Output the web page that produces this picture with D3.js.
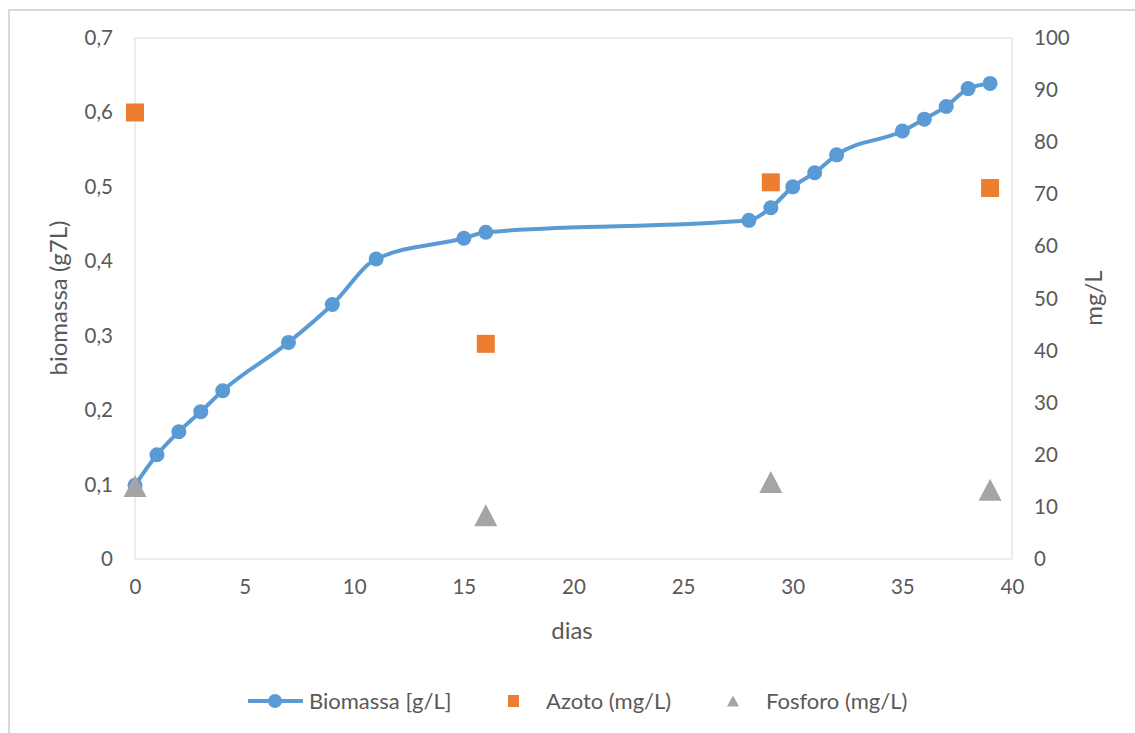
<!DOCTYPE html>
<html>
<head>
<meta charset="utf-8">
<script src="https://cdn.jsdelivr.net/npm/d3@7"></script>
<style>
  html, body { margin: 0; padding: 0; background: #fff; }
  svg { display: block; }
  text { font-family: Lato, "Open Sans", sans-serif; fill: #595959; }
</style>
</head>
<body>
<svg id="chart" width="1135" height="733"></svg>
<script>
// Biomass growth (g/L) by day
const biomassDays  = [0, 1, 2, 3, 4, 7, 9, 11, 15, 16, 28, 29, 30, 31, 32, 35, 36, 37, 38, 39];
const biomassVals  = [0.099, 0.140, 0.171, 0.198, 0.226, 0.291, 0.342, 0.403, 0.431, 0.439,
                      0.455, 0.472, 0.500, 0.519, 0.543, 0.575, 0.591, 0.608, 0.632, 0.639];
// Nutrients (mg/L), right axis
const nutrientDays = [0, 16, 29, 39];
const azotoVals    = [85.7, 41.3, 72.3, 71.2];
const fosforoVals  = [14, 8.4, 14.8, 13.3];

const xTicks      = [0, 5, 10, 15, 20, 25, 30, 35, 40];
const yLeftTicks  = [0, 0.1, 0.2, 0.3, 0.4, 0.5, 0.6, 0.7];
const yRightTicks = [0, 10, 20, 30, 40, 50, 60, 70, 80, 90, 100];

const colors = { bio: "#5B9BD5", azoto: "#ED7D31", fosforo: "#A5A5A5" };

const svg = d3.select("#chart");
const plot = { left: 135, right: 1012, top: 38, bottom: 559 };

const x  = d3.scaleLinear().domain([0, 40]).range([plot.left, plot.right]);
const yL = d3.scaleLinear().domain([0, 0.7]).range([plot.bottom, plot.top]);
const yR = d3.scaleLinear().domain([0, 100]).range([plot.bottom, plot.top]);

// outer chart frame (left and top edges)
svg.append("path")
  .attr("d", "M9,733 V10 H1135")
  .attr("fill", "none").attr("stroke", "#d9d9d9").attr("stroke-width", 2);

// plot area box
svg.append("rect")
  .attr("x", plot.left).attr("y", plot.top)
  .attr("width", plot.right - plot.left).attr("height", plot.bottom - plot.top)
  .attr("fill", "none").attr("stroke", "#d9d9d9").attr("stroke-width", 1);

const fmt = d3.format(".1f");
const comma = v => v === 0 ? "0" : fmt(v).replace(".", ",");

// axes: tick labels only, no tick marks
const axisText = g => { g.select(".domain").remove(); g.selectAll(".tick line").remove(); };
const styleTicks = sel => sel.selectAll("text").attr("font-size", 20.5).attr("fill", "#595959")
  .attr("font-family", "Lato, sans-serif");

svg.append("g")
  .attr("transform", `translate(0,${plot.bottom})`)
  .call(d3.axisBottom(x).tickValues(xTicks).tickSize(0).tickPadding(20))
  .call(axisText).call(styleTicks);

svg.append("g")
  .attr("transform", `translate(${plot.left},0)`)
  .call(d3.axisLeft(yL).tickValues(yLeftTicks).tickFormat(comma).tickSize(0).tickPadding(22))
  .call(axisText).call(styleTicks);

svg.append("g")
  .attr("transform", `translate(${plot.right},0)`)
  .call(d3.axisRight(yR).tickValues(yRightTicks).tickSize(0).tickPadding(22))
  .call(axisText).call(styleTicks);

// axis titles
svg.append("text")
  .attr("x", 572).attr("y", 639).attr("text-anchor", "middle")
  .attr("font-size", 24).text("dias");
svg.append("text")
  .attr("transform", "translate(67,298) rotate(-90)").attr("text-anchor", "middle")
  .attr("font-size", 24).text("biomassa (g7L)");
svg.append("text")
  .attr("transform", "translate(1102,298) rotate(-90)").attr("text-anchor", "middle")
  .attr("font-size", 24).text("mg/L");

// biomass series: smoothed line with circle markers
const bio = biomassDays.map((d, i) => ({ d, v: biomassVals[i] }));
svg.append("path")
  .datum(bio)
  .attr("fill", "none").attr("stroke", colors.bio).attr("stroke-width", 4)
  .attr("stroke-linejoin", "round").attr("stroke-linecap", "round")
  .attr("d", d3.line().x(p => x(p.d)).y(p => yL(p.v)).curve(d3.curveMonotoneX));
svg.append("g").selectAll("circle").data(bio).join("circle")
  .attr("cx", p => x(p.d)).attr("cy", p => yL(p.v)).attr("r", 7.5)
  .attr("fill", colors.bio);

// nitrogen: squares on the right axis
const sq = 18;
svg.append("g").selectAll("rect").data(nutrientDays).join("rect")
  .attr("x", (d) => x(d) - sq / 2)
  .attr("y", (d, i) => yR(azotoVals[i]) - sq / 2)
  .attr("width", sq).attr("height", sq)
  .attr("fill", colors.azoto);

// phosphorus: triangles on the right axis
const tri = (cx, cy, w, h) => `M${cx},${cy - h / 2} L${cx + w / 2},${cy + h / 2} L${cx - w / 2},${cy + h / 2} Z`;
svg.append("g").selectAll("path").data(nutrientDays).join("path")
  .attr("d", (d, i) => tri(x(d), yR(fosforoVals[i]), 23, 22))
  .attr("fill", colors.fosforo);

// legend
const ly = 701;
const legend = svg.append("g");
legend.append("line").attr("x1", 248).attr("x2", 303).attr("y1", ly).attr("y2", ly)
  .attr("stroke", colors.bio).attr("stroke-width", 4);
legend.append("circle").attr("cx", 275).attr("cy", ly).attr("r", 7).attr("fill", colors.bio);
legend.append("text").attr("x", 309).attr("y", ly + 8).attr("font-size", 22).text("Biomassa [g/L]");
legend.append("rect").attr("x", 508).attr("y", ly - 6).attr("width", 11).attr("height", 12).attr("fill", colors.azoto);
legend.append("text").attr("x", 546).attr("y", ly + 8).attr("font-size", 22).text("Azoto (mg/L)");
legend.append("path").attr("d", tri(733, ly, 12, 11)).attr("fill", colors.fosforo);
legend.append("text").attr("x", 766).attr("y", ly + 8).attr("font-size", 22).text("Fosforo (mg/L)");
</script>
</body>
</html>
